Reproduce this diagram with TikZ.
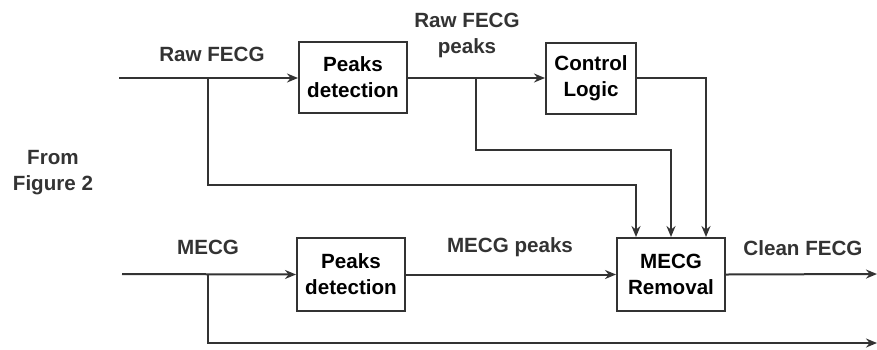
\documentclass[tikz,border=0pt]{standalone}
\usepackage{fontspec}
\setmainfont{Liberation Sans}
\usetikzlibrary{arrows.meta}
\definecolor{ln}{HTML}{333333}
\begin{document}
\begin{tikzpicture}[x=0.5pt,y=-0.5pt,
  font=\fontsize{10.3}{13}\selectfont\bfseries,
  blk/.style={draw=ln,line width=1pt,minimum height=35.5pt,inner sep=0pt,align=center,text=black},
  lbl/.style={text=ln,align=center,inner sep=0pt},
  wire/.style={draw=ln,line width=1pt},
  arr/.style={wire,-{Stealth[length=5.5pt,width=4.5pt,inset=1.8pt]}}]
\useasboundingbox (0,0) rectangle (877,349);
% boxes
\node[blk,minimum width=54pt] (pd1) at (353,77.5) {Peaks\\detection};
\node[blk,minimum width=45pt] (cl) at (591,78.5) {Control\\Logic};
\node[blk,minimum width=54pt,minimum height=36.5pt] (pd2) at (351,274.5) {Peaks\\detection};
\node[blk,minimum width=54pt,minimum height=36.5pt] (mr) at (671,274.5) {MECG\\Removal};
% coordinates
\coordinate (in1) at (119,78);
\coordinate (in2) at (122,274);
\coordinate (b1) at (208,78);
\coordinate (b2) at (476,78);
\coordinate (b3) at (208,274);
\coordinate (out1) at (877,274);
\coordinate (out2) at (877,343);
% connectors
\draw[arr] (in1) -- (pd1.west |- in1);
\draw[arr] (pd1.east |- in1) -- (cl.west |- in1);
\draw[arr] (b1) |- (636,185) -- (mr.north -| 636,0);
\draw[arr] (b2) |- (671,150) -- (mr.north -| 671,0);
\draw[arr] (cl.east |- in1) -| (mr.north -| 706,0);
\draw[arr] (in2) -- (pd2.west);
\draw[arr] (pd2.east) -- (mr.west);
\draw[arr] (mr.east) -- (out1);
\draw[arr] (b3) |- (out2);
% labels
\node[lbl] (l1) at (212,54) {Raw FECG};
\node[lbl] (l2) at (467,35) {Raw FECG\\peaks};
\node[lbl] (l3) at (53,173) {From\\Figure 2};
\node[lbl] (l4) at (208,247) {MECG};
\node[lbl] (l5) at (510,247) {MECG peaks};
\node[lbl] (l6) at (803,248) {Clean FECG};
\end{tikzpicture}
\end{document}
